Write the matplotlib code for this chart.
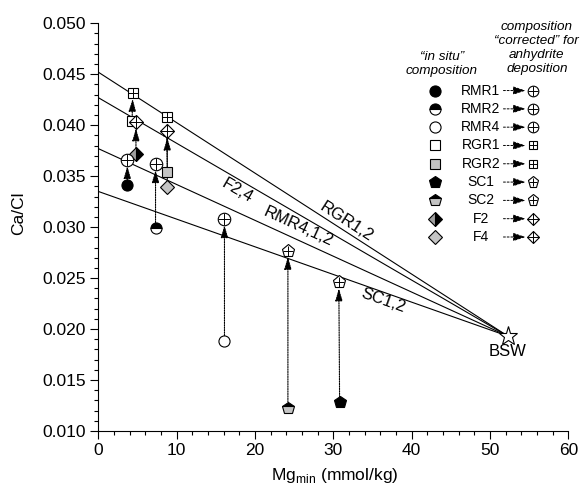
import numpy as np
import matplotlib.pyplot as plt
from matplotlib.ticker import MultipleLocator, FormatStrFormatter

plt.rcParams['font.family'] = ['Liberation Sans', 'DejaVu Sans']

# Sample data
samples = ['RMR1', 'RMR2', 'RMR4', 'RGR1', 'RGR2', 'SC1', 'SC2', 'F2', 'F4']
mg_insitu = [3.7, 7.3, 16.1, 4.3, 8.8, 30.8, 24.2, 4.8, 8.8]
cacl_insitu = [0.0341, 0.0299, 0.0188, 0.0404, 0.0354, 0.0128, 0.0123, 0.0372, 0.0339]
mg_corr = [3.7, 7.3, 16.1, 4.4, 8.7, 30.7, 24.2, 4.8, 8.8]
cacl_corr = [0.0366, 0.0362, 0.0308, 0.0432, 0.0408, 0.0246, 0.0277, 0.0403, 0.0394]

# Bulk sea water end member and mixing lines (Ca/Cl at Mg = 0)
bsw_mg, bsw_cacl = 52.3, 0.0193
mix_names = ['RGR1,2', 'F2,4', 'RMR4,1,2', 'SC1,2']
mix_intercepts = [0.0452, 0.0427, 0.0377, 0.0335]

GREY = '#c4c4c4'
insitu_style = [
    dict(marker='o', mfc='k', ms=8),
    dict(marker='o', mfc='k', mfcalt='white', fillstyle='top', ms=8),
    dict(marker='o', mfc='white', ms=8),
    dict(marker='s', mfc='white', ms=7),
    dict(marker='s', mfc=GREY, ms=7),
    dict(marker='p', mfc='k', ms=9),
    dict(marker='p', mfc='k', mfcalt=GREY, fillstyle='top', ms=9),
    dict(marker='D', mfc='k', mfcalt='#a0a0a0', fillstyle='right', ms=7),
    dict(marker='D', mfc=GREY, ms=7),
]
corr_marker = ['o', 'o', 'o', 's', 's', 'p', 'p', 'D', 'D']
corr_size = {'o': 9, 's': 7.5, 'p': 9.5, 'D': 7.5}
plus_size = {'o': 9, 's': 7.5, 'p': 7, 'D': 10.5}


def draw_corrected(ax, x, y, m, scale=1.0, **kw):
    ax.plot(x, y, marker=m, ms=corr_size[m] * scale, mfc='white', mec='k',
            mew=0.8, ls='none', zorder=6, **kw)
    ax.plot(x, y, marker='+', ms=plus_size[m] * scale, mec='k', mew=0.7,
            ls='none', zorder=7, **kw)


fig = plt.figure(figsize=(5.82, 4.92), dpi=100)
ax = fig.add_axes([0.169, 0.124, 0.8075, 0.8287])
ax.set_xlim(0, 60)
ax.set_ylim(0.010, 0.050)

# mixing lines to BSW
for name, b in zip(mix_names, mix_intercepts):
    ax.plot([0, bsw_mg], [b, bsw_cacl], color='k', lw=0.8, zorder=2)

# labels on lines
label_pos = {'RGR1,2': (31.7, 0.0305), 'F2,4': (17.75, 0.0336),
             'RMR4,1,2': (25.5, 0.0300), 'SC1,2': (36.4, 0.0228)}
for name, b in zip(mix_names, mix_intercepts):
    lx, ly = label_pos[name]
    ang = np.degrees(np.arctan2(bsw_cacl - b, bsw_mg))
    ax.text(lx, ly, name, fontsize=12, rotation=ang, transform_rotates_text=True,
            rotation_mode='anchor', ha='center', va='center')

# arrows from in situ to corrected compositions
for xi, yi, xc, yc in zip(mg_insitu, cacl_insitu, mg_corr, cacl_corr):
    ax.annotate('', xy=(xc, yc), xytext=(xi, yi),
                arrowprops=dict(arrowstyle='-|>,head_length=0.75,head_width=0.22',
                                linestyle=(0, (1.2, 1.0)), lw=0.8, color='k',
                                shrinkA=4, shrinkB=4.5, mutation_scale=10),
                zorder=3)

for i in range(len(samples)):
    ax.plot(mg_insitu[i], cacl_insitu[i], ls='none', mec='k', mew=0.8,
            zorder=5, **insitu_style[i])
    draw_corrected(ax, mg_corr[i], cacl_corr[i], corr_marker[i])

ax.plot(bsw_mg, bsw_cacl, marker='*', ms=14, mfc='white', mec='k', mew=0.8,
        ls='none', zorder=6)
ax.text(bsw_mg, 0.0178, 'BSW', fontsize=12, ha='center', va='center')

# legend drawn by hand
row_y0, row_dy = 0.835, 0.0449
for i, name in enumerate(samples):
    yy = row_y0 - i * row_dy
    ax.plot(0.716, yy, transform=ax.transAxes, ls='none', mec='k', mew=0.8,
            clip_on=False, **insitu_style[i])
    ax.text(0.814, yy, name, transform=ax.transAxes, fontsize=10,
            ha='center', va='center')
    ax.annotate('', xy=(0.909, yy), xytext=(0.862, yy),
                xycoords='axes fraction', textcoords='axes fraction',
                arrowprops=dict(arrowstyle='-|>,head_length=0.75,head_width=0.25',
                                linestyle=(0, (2.0, 1.8)), lw=0.7, color='k',
                                shrinkA=0, shrinkB=0, mutation_scale=10))
    draw_corrected(ax, 0.925, yy, corr_marker[i], scale=0.85,
                   transform=ax.transAxes, clip_on=False)

ax.text(0.7305, 0.9005, '\u201cin situ\u201d\ncomposition', transform=ax.transAxes,
        fontsize=9.7, style='italic', ha='center', va='center')
ax.text(0.933, 0.9397, 'composition\n\u201ccorrected\u201d for\nanhydrite\ndeposition',
        transform=ax.transAxes, fontsize=9.7, style='italic', ha='center',
        va='center')

# axes styling
for s in ['top', 'right']:
    ax.spines[s].set_visible(False)
ax.xaxis.set_major_locator(MultipleLocator(10))
ax.xaxis.set_minor_locator(MultipleLocator(2))
ax.yaxis.set_major_locator(MultipleLocator(0.005))
ax.yaxis.set_minor_locator(MultipleLocator(0.001))
ax.yaxis.set_major_formatter(FormatStrFormatter('%.3f'))
ax.tick_params(which='major', direction='out', length=6, width=0.8,
               labelsize=12.5, pad=3)
ax.tick_params(which='minor', direction='out', length=3, width=0.8)

ax.set_ylabel('Ca/Cl', fontsize=12.5)
ax.yaxis.set_label_coords(-0.154, 0.535)
ax.set_xlabel(r'Mg$_{\mathregular{min}}$ (mmol/kg)', fontsize=12.5)
ax.xaxis.set_label_coords(0.503, -0.085)

fig.savefig('out.png', dpi=100)
